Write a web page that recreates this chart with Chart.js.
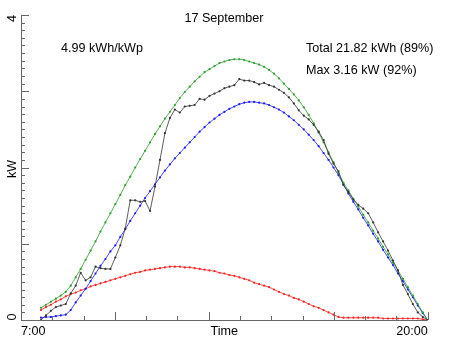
<!DOCTYPE html>
<html>
<head>
<meta charset="utf-8">
<script src="https://cdn.jsdelivr.net/npm/chart.js@4"></script>
<style>
  body { margin: 0; background: #fff; }
  canvas { display: block; }
</style>
</head>
<body>
<canvas id="pvChart" width="452" height="339"></canvas>
<script>
// 10-minute samples from 7:00 to 20:00
const startHour = 7;
const stepHours = 1 / 6;

const measured = [
  0.00, 0.06, 0.12, 0.17, 0.19, 0.21, 0.35, 0.45, 0.62, 0.52,
  0.56, 0.70, 0.68, 0.67, 0.67, 0.82, 0.98, 1.20, 1.57, 1.57,
  1.55, 1.56, 1.43, 1.75, 2.10, 2.45, 2.65, 2.76, 2.72, 2.80,
  2.81, 2.82, 2.90, 2.89, 2.94, 2.97, 3.00, 3.04, 3.06, 3.08,
  3.16, 3.14, 3.14, 3.12, 3.09, 3.11, 3.08, 3.06, 3.02, 2.98,
  2.92, 2.84, 2.75, 2.68, 2.63, 2.56, 2.47, 2.36, 2.18, 2.05,
  1.95, 1.77, 1.68, 1.58, 1.51, 1.46, 1.40, 1.28, 1.15, 1.03,
  0.91, 0.78, 0.65, 0.46, 0.34, 0.21, 0.10, 0.04, 0.00
];

const clearSky = [
  0.16, 0.20, 0.24, 0.28, 0.32, 0.37, 0.45, 0.56, 0.67, 0.79,
  0.91, 1.03, 1.16, 1.28, 1.40, 1.52, 1.64, 1.77, 1.88, 2.00,
  2.11, 2.22, 2.33, 2.44, 2.54, 2.64, 2.73, 2.82, 2.91, 2.99,
  3.06, 3.13, 3.19, 3.25, 3.29, 3.33, 3.37, 3.39, 3.41, 3.42,
  3.42, 3.41, 3.39, 3.37, 3.35, 3.32, 3.28, 3.23, 3.17, 3.10,
  3.03, 2.96, 2.88, 2.79, 2.69, 2.58, 2.46, 2.33, 2.20, 2.07,
  1.93, 1.80, 1.70, 1.59, 1.49, 1.38, 1.28, 1.17, 1.07, 0.96,
  0.86, 0.75, 0.65, 0.54, 0.43, 0.32, 0.21, 0.10, 0.00
];

const direct = [
  0.03, 0.04, 0.04, 0.05, 0.06, 0.07, 0.13, 0.23, 0.32, 0.41,
  0.51, 0.61, 0.71, 0.80, 0.90, 0.98, 1.09, 1.19, 1.30, 1.40,
  1.50, 1.60, 1.69, 1.78, 1.87, 1.96, 2.04, 2.12, 2.19, 2.26,
  2.33, 2.40, 2.47, 2.53, 2.59, 2.64, 2.69, 2.73, 2.77, 2.80,
  2.83, 2.85, 2.86, 2.86, 2.85, 2.84, 2.82, 2.79, 2.76, 2.72,
  2.67, 2.62, 2.56, 2.50, 2.43, 2.36, 2.28, 2.19, 2.10, 2.00,
  1.90, 1.78, 1.66, 1.55, 1.45, 1.34, 1.24, 1.13, 1.03, 0.92,
  0.82, 0.72, 0.61, 0.51, 0.40, 0.30, 0.19, 0.09, 0.00
];

const diffuse = [
  0.13, 0.17, 0.20, 0.24, 0.27, 0.31, 0.34, 0.36, 0.39, 0.41,
  0.44, 0.46, 0.48, 0.50, 0.52, 0.54, 0.56, 0.58, 0.60, 0.62,
  0.63, 0.65, 0.66, 0.67, 0.68, 0.69, 0.70, 0.70, 0.70, 0.69,
  0.69, 0.68, 0.67, 0.66, 0.65, 0.64, 0.62, 0.61, 0.59, 0.58,
  0.56, 0.54, 0.52, 0.49, 0.47, 0.45, 0.43, 0.40, 0.37, 0.34,
  0.32, 0.29, 0.27, 0.24, 0.21, 0.18, 0.16, 0.13, 0.10, 0.07,
  0.04, 0.03, 0.03, 0.03, 0.03, 0.03, 0.03, 0.03, 0.03, 0.02,
  0.02, 0.02, 0.02, 0.02, 0.02, 0.02, 0.02, 0.01, 0.00
];

const titleText = "17 September";
const yieldText = "4.99 kWh/kWp";
const totalText = "Total 21.82 kWh (89%)";
const maxText = "Max 3.16 kW (92%)";
const xTickLabels = ["7:00", "20:00"];
const xTitle = "Time";
const yTickLabels = ["0", "4"];
const yTitle = "kW";

const xMin = 6.328, xMax = 20;
const yMin = 0, yMax = 4;

function toPoints(values) {
  return values.map((v, i) => ({ x: startHour + i * stepHours, y: v }));
}

function series(values, color) {
  return {
    data: toPoints(values),
    borderColor: color,
    backgroundColor: color,
    borderWidth: 0.8,
    pointRadius: 1.1,
    pointBorderWidth: 0,
    pointHoverRadius: 1.1,
    tension: 0
  };
}

const font = "12.6px 'Liberation Sans', Arial, sans-serif";

// axes in the old plotting style: ticks point inwards, labels only at the ends
const axesPlugin = {
  id: "axesPlugin",
  afterDraw(chart) {
    const ctx = chart.ctx;
    const xs = chart.scales.x, ys = chart.scales.y;
    const left = xs.getPixelForValue(xMin), right = xs.getPixelForValue(xMax);
    const top = ys.getPixelForValue(yMax), bottom = ys.getPixelForValue(yMin);

    ctx.save();
    ctx.strokeStyle = "#666";
    ctx.lineWidth = 1;
    ctx.beginPath();
    ctx.moveTo(left + 0.5, top);
    ctx.lineTo(left + 0.5, bottom + 0.5);
    ctx.lineTo(right, bottom + 0.5);
    ctx.stroke();

    // y ticks every 0.1 kW
    ctx.beginPath();
    for (let k = 0; k <= 40; k++) {
      const y = Math.round(ys.getPixelForValue(k / 10)) + 0.5;
      const len = (k % 10 === 0) ? 8 : 4;
      ctx.moveTo(left, y);
      ctx.lineTo(left + len, y);
    }
    // x ticks: 13 equal intervals
    const majorX = [3, 6, 10, 13];
    for (let k = 1; k <= 13; k++) {
      const x = Math.round(xs.getPixelForValue(xMin + k * (xMax - xMin) / 13)) + 0.5;
      const len = majorX.includes(k) ? 8 : 4;
      ctx.moveTo(x, bottom);
      ctx.lineTo(x, bottom - len);
    }
    ctx.stroke();

    ctx.fillStyle = "#000";
    ctx.font = font;
    ctx.textBaseline = "alphabetic";

    ctx.textAlign = "center";
    ctx.fillText(titleText, 224, 21.5);
    ctx.textAlign = "left";
    ctx.fillText(yieldText, 61, 52);
    ctx.fillText(totalText, 306, 52);
    ctx.fillText(maxText, 306, 73.5);

    // x labels
    ctx.fillText(xTickLabels[0], left, 334.5);
    ctx.textAlign = "right";
    ctx.fillText(xTickLabels[1], xs.getPixelForValue(20), 334.5);
    ctx.textAlign = "center";
    ctx.fillText(xTitle, (left + right) / 2, 334.5);

    // y labels, rotated
    const rot = (text, x, y) => {
      ctx.save();
      ctx.translate(x, y);
      ctx.rotate(-Math.PI / 2);
      ctx.textAlign = "center";
      ctx.textBaseline = "middle";
      ctx.fillText(text, 0, 0);
      ctx.restore();
    };
    rot(yTickLabels[0], 12.5, ys.getPixelForValue(0) - 3);
    rot(yTickLabels[1], 13, ys.getPixelForValue(4) + 3.5);
    rot(yTitle, 12.5, (top + bottom) / 2 + 1.5);
    ctx.restore();
  }
};

new Chart(document.getElementById("pvChart"), {
  type: "line",
  data: {
    datasets: [
      series(measured, "#333333"),
      series(clearSky, "#2c9e2c"),
      series(direct, "#1a1aff"),
      series(diffuse, "#ff2020")
    ]
  },
  options: {
    responsive: false,
    animation: false,
    devicePixelRatio: 1,
    layout: { padding: { left: 21, top: 15, right: 24.3, bottom: 19 } },
    plugins: { legend: { display: false }, tooltip: { enabled: false } },
    scales: {
      x: { type: "linear", min: xMin, max: xMax, display: false },
      y: { type: "linear", min: yMin, max: yMax, display: false }
    }
  },
  plugins: [axesPlugin]
});
</script>
</body>
</html>
